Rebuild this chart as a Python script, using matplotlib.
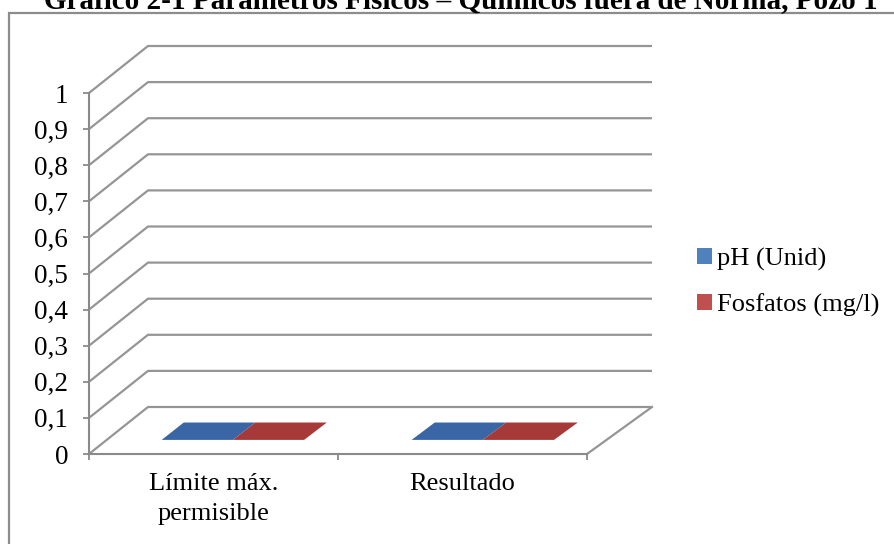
import matplotlib
matplotlib.use("Agg")
import matplotlib.pyplot as plt
from matplotlib.transforms import IdentityTransform
from matplotlib.patches import Polygon, Patch, Rectangle
from matplotlib.lines import Line2D

# ---- data ----
categories = ["Límite máx.\npermisible", "Resultado"]
series_names = ["pH (Unid)", "Fosfatos (mg/l)"]
ph_values = [0, 0]
fosfatos_values = [0, 0]
y_ticks = [0, 0.1, 0.2, 0.3, 0.4, 0.5, 0.6, 0.7, 0.8, 0.9, 1]
y_tick_labels = ["0", "0,1", "0,2", "0,3", "0,4", "0,5", "0,6", "0,7", "0,8", "0,9", "1"]
title = "Gráfico 2-1 Parámetros Físicos – Químicos fuera de Norma, Pozo 1"

series_values = [ph_values, fosfatos_values]
legend_colors = ["#4F81BD", "#C0504D"]
top_colors = ["#3A66A6", "#A63A38"]
front_colors = ["#4A7AB5", "#B84B48"]
side_colors = ["#355C94", "#93322F"]

grid_color = "#959595"
axis_color = "#8a8a8a"

plt.rcParams["font.family"] = ["Liberation Serif", "DejaVu Serif"]

W, H = 894, 544
fig = plt.figure(figsize=(W / 100, H / 100), dpi=100)
fig.patch.set_facecolor("white")

# front plane of the 3-D plot area
ax = fig.add_axes([89 / W, (H - 454) / H, 498 / W, 361 / H])
ax.set_xlim(0, len(categories))
ax.set_ylim(0, 1)
ax.patch.set_visible(False)

# oblique depth projection: depth 0 = front plane, depth 1 = back wall
DX, DY, WIDEN = 59.0, 47.0, 0.012


def project(x, y, d):
    px, py = ax.transData.transform((x, y))
    x0 = ax.transAxes.transform((0, 0))[0]
    px = x0 + (px - x0) * (1 + WIDEN * d) + DX * d
    py = py + DY * d
    return (px, py)


def poly_line(points, **kw):
    pts = [project(*p) for p in points]
    ln = Line2D([p[0] for p in pts], [p[1] for p in pts],
                transform=IdentityTransform(), clip_on=False, **kw)
    ax.add_line(ln)


def face(points, color, z):
    pts = [project(*p) for p in points]
    ax.add_patch(Polygon(pts, closed=True, transform=IdentityTransform(),
                         facecolor=color, edgecolor="none", clip_on=False,
                         zorder=z))


nx = len(categories)

# back wall gridlines with their diagonal run along the left side wall
for v in y_ticks:
    poly_line([(0, v, 0), (0, v, 1), (nx, v, 1)], color=grid_color,
              lw=1.6, solid_capstyle="butt", zorder=1)

# floor edge on the right
poly_line([(nx, 0, 0), (nx, 0, 1)], color=grid_color, lw=1.6, zorder=1)

# bars (3-D boxes; zero-height bars collapse to their top face)
group_start, bar_w = 0.22, 0.285
d_front, d_back = 0.30, 0.67
for j, vals in enumerate(series_values):
    for i, h in enumerate(vals):
        x0 = i + group_start + j * bar_w
        x1 = x0 + bar_w
        face([(x0, 0, d_front), (x1, 0, d_front), (x1, h, d_front), (x0, h, d_front)],
             front_colors[j], 3)
        face([(x1, 0, d_front), (x1, 0, d_back), (x1, h, d_back), (x1, h, d_front)],
             side_colors[j], 3)
        face([(x0, h, d_front), (x1, h, d_front), (x1, h, d_back), (x0, h, d_back)],
             top_colors[j], 4)

# axes lines and ticks
for s in ["top", "right"]:
    ax.spines[s].set_visible(False)
for s in ["left", "bottom"]:
    ax.spines[s].set_color(axis_color)
    ax.spines[s].set_linewidth(1.5)
    ax.spines[s].set_zorder(5)

ax.set_yticks(y_ticks, labels=y_tick_labels)
ax.tick_params(axis="y", length=4.5, width=1.3, color=axis_color, pad=10.5,
               labelsize=19.5)
ax.set_xticks(range(nx + 1), labels=[""] * (nx + 1))
ax.set_xticks([i + 0.5 for i in range(nx)], labels=categories, minor=True,
              linespacing=1.45)
ax.tick_params(axis="x", which="major", length=4, width=1.3, color=axis_color)
ax.tick_params(axis="x", which="minor", length=0, pad=14, labelsize=19)

# legend
handles = [Patch(facecolor=c, edgecolor="none") for c in legend_colors]
fig.legend(handles, series_names, loc="center left",
           bbox_to_anchor=(697 / W, 1 - 282.5 / H), frameon=False, fontsize=19,
           handlelength=0.55, handleheight=0.55, handletextpad=0.2,
           labelspacing=0.85, borderpad=0, borderaxespad=0)

# outer chart frame
fig.add_artist(Rectangle((8.5 / W, -0.05), 1.2, 1.05 - 13 / H,
                         transform=fig.transFigure, fill=False,
                         edgecolor="#8c8c8c", lw=1.6, zorder=0))

# title
fig.text(461 / W, 1 - 8.5 / H, title, ha="center", va="baseline",
         fontsize=21, fontweight="bold")

fig.savefig("out.png", dpi=100)
